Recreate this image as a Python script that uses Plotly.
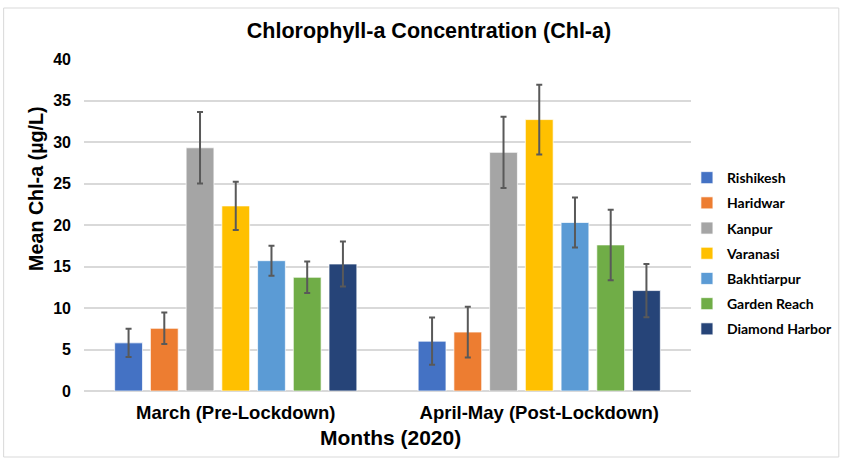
import plotly.graph_objects as go

categories = ["March (Pre-Lockdown)", "April-May (Post-Lockdown)"]
sites = ["Rishikesh", "Haridwar", "Kanpur", "Varanasi", "Bakhtiarpur", "Garden Reach", "Diamond Harbor"]
rishikesh = [5.8, 6.0]
haridwar = [7.55, 7.1]
kanpur = [29.3, 28.75]
varanasi = [22.3, 32.7]
bakhtiarpur = [15.7, 20.3]
garden_reach = [13.7, 17.6]
diamond_harbor = [15.3, 12.1]
err_rishikesh = [1.7, 2.85]
err_haridwar = [1.9, 3.05]
err_kanpur = [4.3, 4.3]
err_varanasi = [2.9, 4.2]
err_bakhtiarpur = [1.8, 3.0]
err_garden_reach = [1.9, 4.25]
err_diamond_harbor = [2.7, 3.2]
colors = ["#4472C4", "#ED7D31", "#A5A5A5", "#FFC000", "#5B9BD5", "#70AD47", "#264478"]

values = [rishikesh, haridwar, kanpur, varanasi, bakhtiarpur, garden_reach, diamond_harbor]
errors = [err_rishikesh, err_haridwar, err_kanpur, err_varanasi, err_bakhtiarpur, err_garden_reach, err_diamond_harbor]

FONT = "Liberation Sans"

fig = go.Figure()
for name, vals, errs, col in zip(sites, values, errors, colors):
    fig.add_trace(go.Bar(
        name=name, x=categories, y=vals, legendgroup=name,
        marker=dict(color=col, line=dict(color="rgba(255,255,255,0.7)", width=1)),
        error_y=dict(type="data", array=errs, visible=True, color="#595959", thickness=2, width=3),
    ))

fig.update_layout(
    width=850, height=460,
    margin=dict(l=84, r=154, t=59, b=69),
    paper_bgcolor="white", plot_bgcolor="white",
    barmode="group", bargap=0.176, bargroupgap=0.222,
    title=dict(text="Chlorophyll-a Concentration (Chl-a)", x=429/850, xref="container", xanchor="center",
               y=1 - 30/460, yref="container", yanchor="middle",
               font=dict(family=FONT, size=21.5, color="black", weight="bold")),
    legend=dict(x=0.9933, xanchor="left", y=0.414, yanchor="middle", traceorder="grouped",
                tracegroupgap=4, font=dict(family="Lato", size=14, color="black", weight="bold"),
                bgcolor="rgba(0,0,0,0)"),
    xaxis=dict(showgrid=False, showline=False, zeroline=False, ticks="", ticklabelstandoff=8,
               tickfont=dict(family=FONT, size=18.5, color="black", weight="bold")),
    yaxis=dict(range=[0, 40], dtick=5, showgrid=True, gridcolor="#D9D9D9", gridwidth=1.5,
               zeroline=True, zerolinecolor="#D9D9D9", zerolinewidth=1.5, showline=False, ticks="",
               ticklabelstandoff=12,
               tickfont=dict(family=FONT, size=16, color="black", weight="bold")),
    shapes=[dict(type="rect", xref="paper", yref="paper", x0=-0.1324, x1=1.2435, y0=-0.1988, y1=1.1536,
                 line=dict(color="#D9D9D9", width=1), fillcolor="rgba(0,0,0,0)", layer="below")],
    annotations=[
        dict(text="Months (2020)", xref="paper", yref="paper", x=(393.5-84)/612, y=(391-437.5)/332,
             xanchor="center", yanchor="middle", showarrow=False,
             font=dict(family=FONT, size=21, color="black", weight="bold")),
        dict(text="Mean Chl-a (µg/L)", xref="paper", yref="paper", x=(35-84)/612, y=(391-188.5)/332,
             xanchor="center", yanchor="middle", showarrow=False, textangle=-90,
             font=dict(family=FONT, size=19.7, color="black", weight="bold")),
    ],
)

fig.write_html("out.html", config={"displayModeBar": False},
               post_script="document.body.style.margin='0px';")
